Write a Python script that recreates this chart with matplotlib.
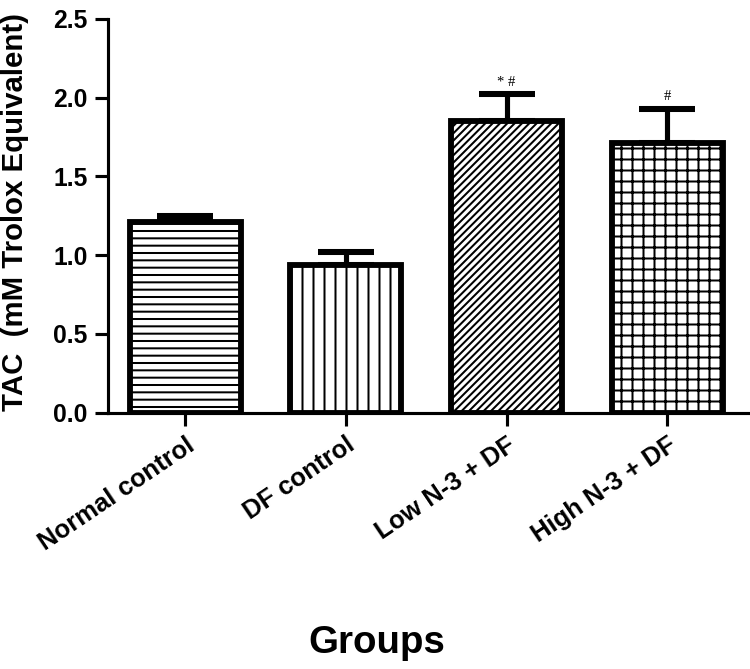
import matplotlib
matplotlib.use("Agg")
import matplotlib.pyplot as plt
import numpy as np

groups = ["Normal control", "DF control", "Low N-3 + DF", "High N-3 + DF"]
tac = [1.21, 0.94, 1.85, 1.71]
sem = [0.04, 0.08, 0.17, 0.22]
marks = ["", "", "* #", "#"]
hatches = ["---", "||", "//////", "++"]

DPI = 132
plt.rcParams["font.family"] = ["Liberation Sans", "DejaVu Sans"]
plt.rcParams["hatch.linewidth"] = 1.1

fig = plt.figure(figsize=(750 / DPI, 669 / DPI), dpi=DPI)
ax = fig.add_axes([0.144, 0.383, 0.853, 0.589])

x = np.arange(len(groups))
ax.errorbar(x, tac, yerr=[np.zeros(len(sem)), sem], fmt="none", ecolor="black",
            elinewidth=2.8, capsize=15.5, capthick=3.3, zorder=1)
bars = ax.bar(x, tac, width=0.69, color="white", edgecolor="black",
              linewidth=3.2, zorder=2)
for b, h in zip(bars, hatches):
    b.set_hatch(h)

for xi, v, e, m in zip(x, tac, sem, marks):
    if m:
        ax.text(xi, v + e + 0.035, m, ha="center", va="bottom", fontsize=8,
                family="Liberation Serif")

ax.set_xlim(-0.48, 3.5)
ax.set_ylim(0, 2.5)
ax.set_yticks([0.0, 0.5, 1.0, 1.5, 2.0, 2.5])
ax.set_yticklabels(["0.0", "0.5", "1.0", "1.5", "2.0", "2.5"])
ax.set_xticks(x)
ax.set_xticklabels(groups, rotation=34, ha="right", rotation_mode="anchor",
                   fontsize=14)

for s in ["top", "right"]:
    ax.spines[s].set_visible(False)
for s in ["left", "bottom"]:
    ax.spines[s].set_linewidth(1.7)
ax.tick_params(axis="both", width=1.7, length=7, pad=4)
ax.tick_params(axis="y", labelsize=13.5)
for lab in ax.get_xticklabels() + ax.get_yticklabels():
    lab.set_fontweight("bold")

ax.set_ylabel("TAC  (mM Trolox Equivalent)", fontsize=16, fontweight="bold")
ax.yaxis.set_label_coords(-0.124, 0.51)
ax.set_xlabel("Groups", fontsize=21, fontweight="bold")
ax.xaxis.set_label_coords(0.42, -0.584)
ax.xaxis.label.set_va("center")

fig.savefig("out.png", dpi=DPI)
